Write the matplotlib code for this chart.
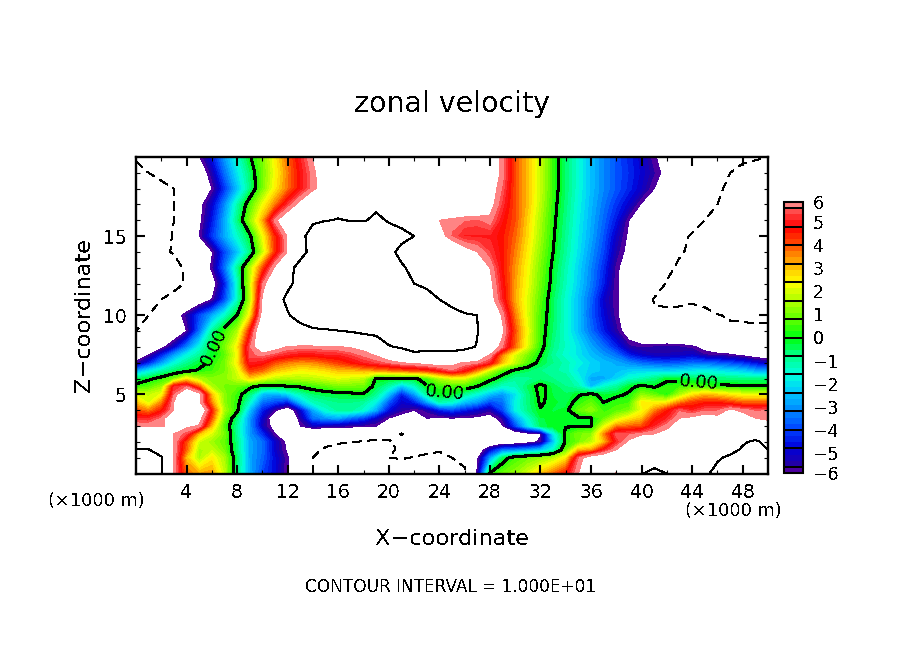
import numpy as np
import matplotlib
matplotlib.use('Agg')
import matplotlib.pyplot as plt
from matplotlib.colors import LinearSegmentedColormap

plt.rcParams['font.family'] = 'DejaVu Sans'
plt.rcParams['text.antialiased'] = False
plt.rcParams['lines.antialiased'] = False

# zonal velocity, one row per height, x = 0..50 km
# rows are every km, with half km rows below 8 km where the structure is finer
x_km = list(range(0, 51))
z_km = [0, 1, 1.5, 2, 2.5, 3, 3.5, 4, 4.5, 5, 5.5, 6, 6.5, 7, 7.5, 8, 9, 10, 11, 12, 13, 14, 15, 16, 17, 18, 19, 20]

u_z00 = [13,12.5,10.3,5.9,3.8,3.2,3.4,1.8,-0.8,-2.7,
         -4,-4.8,-6,-8,-10,-12,-12,-12,-12,-12,
         -12,-12,-12,-12,-12,-11,-10.2,-5.8,0.1,0.9,
         1.3,2,3,3.8,4.6,6,7.5,7,5.9,7.5,
         9.9,10.5,10,9,9,9.7,10.5,12,12,12,
         12]
u_z01 = [12,11.5,10.2,6,3,1.5,2.5,1.5,-0.6,-2.8,
         -3.6,-4.8,-5.9,-7.5,-10,-12,-12,-12,-12,-11.5,
         -10,-9.8,-10.1,-10.4,-10.6,-10,-9.7,-6.2,-3,-0.5,
         0.5,0.9,1.2,1.6,2.5,5.5,6.8,7,7,7.5,
         8.5,9,9,8.5,8.5,9,9.8,10.3,11,11,
         11]
u_z01_5 = [10.2,10.1,9,6,3.8,1.5,1.8,1,-0.8,-2.8,
           -3.5,-5,-6.2,-7.5,-9.5,-10.3,-11,-11,-11,-11,
           -10.5,-9.5,-9.4,-9.5,-9.8,-9.5,-9,-7,-5,-3.5,
           -3.3,-3,-2.5,-1.5,0.8,3,3.2,4.8,6,7,
           8,9,8.5,8.5,8.5,8.5,9,9.5,10.2,10.1,
           10]
u_z02 = [8,8,7.5,6,4,1.9,1.4,0.8,-0.8,-2.8,
         -3.5,-5,-6.3,-8,-9.2,-9.4,-9.7,-9.9,-10.2,-10.5,
         -10.3,-9.5,-9,-9,-9.3,-9,-9.5,-8.5,-7.5,-7,
         -7,-6.5,-5.8,-2.5,0.2,1,1.7,3,5,6.2,
         8,8,8,8,8,8.5,8.8,9,9.8,10.3,
         9.5]
u_z02_5 = [7,7,6.8,6,5.3,3,2,1,-1,-3,
           -4.3,-6,-8,-7.5,-8,-8,-8,-8,-8,-8.5,
           -9,-10.1,-9,-9,-8.5,-8.3,-8.5,-8,-7.8,-7.5,
           -7,-6.5,-6.1,-2,0.3,1,1.2,3.5,5.5,5.5,
           5.7,6,6.3,7,8,8,8,8.5,9,9,
           9]
u_z03 = [6,5.9,5.9,6.3,6.2,5.9,3,0.6,-1,-3,
         -5.2,-6.5,-7.5,-6,-5.2,-5.4,-5.5,-5.7,-5.8,-6,
         -7,-8.5,-8,-7.5,-7,-7,-7.5,-8,-7,-6.1,
         -4,-2,-0.5,-0.1,-0.05,-0.05,-0.02,2,3.5,3.8,
         4,5,5.8,6.5,7.5,8,8,8,8,7.5,
         6.5]
u_z03_5 = [5,5,5.6,7,8,6.5,4,1,-0.7,-3,
           -5,-7,-8,-5.5,-3.5,-3,-2.8,-3.5,-4,-5,
           -6,-6.5,-6.5,-6,-6.1,-6,-6.1,-6.2,-6.5,-5.5,
           -3,-1.5,-0.3,-0.2,-0.2,-0.1,-0.02,0.8,1.8,2.5,
           3,4.5,5,6,6.2,6.5,6.3,6.3,6.5,6,
           5.8]
u_z04 = [4,3.5,4.5,6,8,7.5,4.5,1.5,0.2,-2.5,
         -4.5,-5.8,-7,-5,-2.8,-1.5,-1,-1,-1.5,-2.8,
         -4.7,-5.5,-6,-5.5,-4.5,-4,-4.5,-5,-5.5,-4,
         -1.8,-0.8,-0.05,-0.3,-0.2,0.8,1.3,0.4,0.7,1,
         2.2,3.5,4.5,5.5,5,5.5,5.5,6.2,5.8,5.5,
         5.6]
u_z04_5 = [3,2,3.5,6,8,6.2,3.5,1.2,0.3,-1.5,
           -3.5,-4,-4.5,-2.5,-1.3,-1,-0.8,-0.8,-1,-1.8,
           -3.8,-5,-4.5,-3,-1.2,-1.5,-2.5,-3,-4,-3.5,
           -1.8,-0.7,0.1,-0.2,-0.4,0.3,0.8,0,0.4,0.5,
           2.5,2.3,2.5,3.5,4.2,4.5,4.5,4.2,3.8,3.8,
           3.8]
u_z05 = [2,1.8,2.2,5.5,7.5,6.5,3,1.2,0.4,-0.7,
         -2.5,-2.8,-2.2,-1.3,-0.6,-0.4,-0.3,-0.2,-0.1,-0.9,
         -2.5,-4.5,-3,-1,-0.1,-0.2,-1,-1.7,-2.5,-3,
         -2,-0.7,0.2,-0.3,-0.5,-0.1,0.2,-0.3,-0.2,0.1,
         1.2,0.8,0.2,1.5,2.5,3,2.8,2.5,2.2,2.2,
         2.2]
u_z05_5 = [0.3,0.7,1.3,5,5.5,3.8,1.5,1,0.8,0.2,
           -0.3,-0.3,-0.05,0.1,0.4,0.7,1,0.9,0.9,-0.4,
           -1.2,-2.5,-1.5,-0.1,0.4,0.5,0.5,0,-0.8,-1.5,
           -1.3,-0.5,0.3,-0.4,-0.8,-1.2,-2.5,-1.5,-1,-0.2,
           0.2,-0.1,0.3,0.5,0.7,0.5,0.2,0.15,0.1,0.1,
           0.1]
u_z06 = [-0.6,-0.2,0.3,1,2.5,1.6,1.1,1.2,1.8,2.8,
         2.2,1.7,1.5,1.6,1.7,1.9,2.1,1.9,1.7,-0.1,
         -0.1,-0.1,-0.2,0.5,1.5,2,2,1,0.3,-0.4,
         -1,-0.9,-0.7,-0.8,-0.9,-1.6,-2.8,-2.8,-2.2,-1.5,
         -1.2,-0.8,-0.2,-0.3,-0.5,-0.6,-0.7,-0.7,-0.8,-0.8,
         -0.8]
u_z06_5 = [-3,-2,-1.2,-0.6,-0.2,0.1,0.5,1,2,4.2,
           3.8,3,2.7,2.4,2.5,2.7,3,3,3.2,3.4,
           3.6,3.8,4,4.2,4.8,5.5,4.8,3.5,1.8,0.5,
           -0.2,-0.5,-0.8,-1,-1.2,-2,-2.2,-2.5,-2.5,-2.3,
           -2.2,-2.2,-2.3,-2.2,-2,-1.8,-2,-2.2,-2.4,-2.8,
           -3]
u_z07 = [-5.8,-4.5,-3,-1.7,-0.9,-0.3,0.2,1,2.5,5,
         4.8,4,3.6,3.4,3.5,3.8,4.2,4.6,5,5.3,
         5.6,6,6.2,6.5,6.7,6.3,5.9,5.7,5,3,
         1.8,0.6,-0.3,-0.8,-1.2,-1.7,-2.2,-2.5,-2.8,-3.2,
         -3.6,-3.8,-3.9,-3.8,-3.6,-3.6,-3.8,-4,-4.3,-4.8,
         -5.2]
u_z07_5 = [-7,-6,-4.5,-3,-1.8,-1,-0.2,0.7,2.3,5.5,
           5.7,5.3,5,4.8,4.8,5,5,5.3,5.7,6.1,
           7,8.5,9.5,9.3,9.3,9.3,9,7.5,6,3.5,
           2,1,0,-1,-1.5,-2,-2.5,-3,-3.5,-4.5,
           -5,-5.3,-5.3,-5.2,-5,-5.6,-5.8,-5.9,-6.2,-6.6,
           -7]
u_z08 = [-8.5,-7.5,-6.4,-5,-3.3,-1.7,-0.2,1,2.5,5.5,
         7,6.5,5.9,5.8,5.8,5.85,5.95,6.1,6.3,7.2,
         9.8,10.3,10.8,10.8,10.8,10.8,10.5,9.9,7,5.6,
         3.8,2,0.3,-0.8,-1.4,-2,-2.8,-3.5,-4.4,-5.5,
         -5.7,-5.6,-5.5,-5.6,-5.8,-6.4,-6.8,-7,-7.2,-7.3,
         -7.5]
u_z09 = [-10,-9.5,-8.5,-7.3,-6,-3.5,-1,0.4,1.5,4.5,
         7.5,8,8.5,9,9.3,9.6,9.9,10.2,10.8,11.2,
         11.5,12,12,12,12,12,11,10.1,7.5,6.2,
         4,2.2,0.4,-0.6,-1.5,-2.5,-3.5,-4.5,-5.5,-6.7,
         -7.5,-8,-8.2,-8.3,-8.5,-8.7,-9,-9.6,-9.6,-9.6,
         -9.6]
u_z10 = [-10.8,-10,-8.5,-6.8,-5.5,-4,-2.8,-1.5,0,2.5,
         6.5,8.5,9.8,11,13,13,13,13,13,13,
         13,13,13,13,13,11,10.3,10,8,5.8,
         3.6,2,0.5,-0.5,-1.5,-2.5,-3.7,-4.8,-5.8,-7,
         -9,-9.6,-9.2,-9,-9.2,-9.5,-9.9,-10.2,-10.3,-10.4,
         -10.4]
u_z11 = [-12.5,-11.5,-10,-9,-8,-7,-6,-4,-1.5,1.5,
         6.2,9,10.5,13,13,13,13,13,13,13,
         13,13,13,12,10,9,8,7,6.5,5,
         3.2,2,0.7,-0.5,-1.5,-2.5,-3.6,-5,-5.9,-6.5,
         -8,-10.2,-10.8,-10.8,-10.3,-10.5,-11.5,-12,-12.5,-13,
         -13]
u_z12 = [-14,-13,-12,-11,-9.7,-8,-6.7,-4.5,-1.5,1.8,
         5.5,7.5,9.5,10.8,13,13,13,13,13,13,
         13,12,10,9,8.5,8,7.5,7,6.3,4.8,
         3.3,2.2,0.9,-0.3,-1.3,-2.3,-3.3,-4.5,-5.9,-6.6,
         -7.4,-8.5,-10.2,-11,-11.5,-12,-13,-13,-13,-13,
         -13]
u_z13 = [-14,-13,-12,-11,-9.5,-7.5,-5.8,-3.5,-1,1.5,
         4,6.2,9.5,10.5,13,13,13,13,13,13,
         13,10.5,9,8.5,8,8,8,7,6,4.6,
         3.4,2.3,1,-0.2,-1.2,-2.2,-3.2,-4.3,-5.8,-6.7,
         -7.5,-8.2,-9.3,-10.5,-11.5,-12,-13,-13,-13,-13,
         -13]
u_z14 = [-13,-12,-10.5,-9.8,-8.5,-7,-6.1,-4,-2.5,-0.8,
         1.7,4.3,6.1,9.5,10.5,12,13,13,13,13,
         11,9,8.5,9.3,8,7.5,6.5,6,5.3,4.6,
         3.6,2.5,1.2,0,-1,-2,-3,-4,-5.4,-6.4,
         -7,-8,-8.8,-9.7,-10.5,-11.5,-12,-13,-13,-13,
         -13]
u_z15 = [-13,-12,-11,-9.8,-8,-6,-4.2,-2.8,-1.5,-0.2,
         2.2,4.4,6.1,9,11.5,13,13,13,13,11,
         11,11,10,8.5,6.5,5.5,5,5,5,4.6,
         3.8,2.7,1.4,0.1,-0.9,-1.9,-2.8,-3.8,-5.1,-6.2,
         -7,-7.5,-8.3,-9.5,-10.2,-11,-12,-13,-13,-13,
         -13]
u_z16 = [-13,-12,-11,-10,-8,-6.3,-4.6,-2.8,-0.8,1.2,
         3.2,5.8,7,8.5,9.5,9.9,10.1,9.9,9.8,10.5,
         9.8,9,8.5,7.5,6,5.8,5.6,5.5,5.8,4.8,
         4,2.8,1.5,0.2,-0.8,-1.8,-2.7,-3.6,-4.6,-6,
         -7,-7.5,-8,-8.5,-9.2,-10,-11,-12,-13,-13,
         -13]
u_z17 = [-13,-12,-11,-10,-8.5,-6.4,-5,-3.2,-1.2,0.6,
         2.2,3.6,5.2,6.4,7.5,8.5,9.3,9.5,9.5,9.5,
         9,8.5,8.5,8.5,8,7.5,7.5,7.5,6.4,5.2,
         4,3,1.7,0.3,-0.7,-1.7,-2.6,-3.4,-4.2,-5,
         -6.1,-6.8,-7.5,-8,-8.5,-9.3,-10,-11,-12,-13,
         -13]
u_z18 = [-13,-12,-11,-10,-8.5,-7,-6,-4.2,-2.5,-0.8,
         1,2.5,3.7,4.8,5.8,6.5,7.5,8,8,8,
         8,8,8,8,8,8,8,8,6.6,5.5,
         4,3,1.8,0.4,-0.6,-1.6,-2.5,-3.2,-3.8,-4.4,
         -5.1,-6,-6.8,-7.5,-8,-8.8,-9.6,-10.5,-12,-13,
         -13]
u_z19 = [-10.5,-10,-9,-8.5,-8,-7,-5.4,-3.5,-2,-0.6,
         0.9,2.3,3.6,4.8,5.8,6.7,7.5,8,8,8,
         8,8,8,8,8,8,8,7.8,6.7,5.8,
         4,3,1.8,0.4,-0.6,-1.6,-2.5,-3.2,-3.8,-4.3,
         -4.9,-5.6,-6.4,-7.5,-8,-8.7,-9.4,-10,-11,-11.5,
         -12]
u_z20 = [-9.8,-9,-8.5,-8,-7,-6.1,-4.6,-3,-1.5,-0.1,
         1,2.5,3.8,5,6.1,7,7.5,8,8,8,
         8,8,8,8,8,8,8,8,7,5.7,
         4,3,1.8,0.4,-0.6,-1.6,-2.5,-3.2,-3.8,-4.4,
         -5,-5.9,-6.5,-7,-7.5,-8,-8.5,-9,-9.3,-9.6,
         -10]

u = np.array([u_z00, u_z01, u_z01_5, u_z02, u_z02_5, u_z03, u_z03_5, u_z04, u_z04_5, u_z05, u_z05_5,
              u_z06, u_z06_5, u_z07, u_z07_5, u_z08, u_z09, u_z10, u_z11, u_z12, u_z13, u_z14,
              u_z15, u_z16, u_z17, u_z18, u_z19, u_z20])

# colour table, value -> colour, taken from the colour bar
color_values = [-6, -5.6, -4.8, -4, -3.2, -2.4, -1.6, -0.8, 0, 0.8, 1.6, 2.4, 3.2, 4, 4.8, 5.6, 6]
color_list = ['#6e00a0', '#2800a0', '#0000d8', '#0040ff', '#0088ff', '#00c8ff', '#00ffdc', '#00ff8c',
              '#00ff10', '#60ff00', '#b0ff00', '#ffff00', '#ffb400', '#ff5000', '#ff0000', '#ff5a5a', '#ffaaaa']
cmap = LinearSegmentedColormap.from_list(
    'zonal', [((v + 6) / 12, c) for v, c in zip(color_values, color_list)], N=256)
levels = [-6] + [round(-5.6 + i * 0.8 / 3, 4) for i in range(43)] + [6]

fig = plt.figure(figsize=(9.04, 6.54), dpi=100)
ax = fig.add_axes([136 / 904, 1 - 473.5 / 654, 632 / 904, 316.5 / 654])

cf = ax.contourf(x_km, z_km, u, levels=levels, cmap=cmap, vmin=-6, vmax=6)
# +/-10 thin (negative dashed), zero line heavy
thin = ax.contour(x_km, z_km, u, levels=[-10, 10], colors='k', linewidths=0.75,
                  linestyles=[(0, (8, 6)), 'solid'], antialiased=False)
zero = ax.contour(x_km, z_km, u, levels=[0], colors='k', linewidths=1.5, antialiased=False)
ax.clabel(zero, fmt='%.2f', fontsize=13, inline=True, inline_spacing=2,
          manual=[(6.2, 8), (24.5, 4.9), (44.5, 5.7)])

ax.set_xlim(0, 50)
ax.set_ylim(0, 20)
ax.set_xticks(range(4, 50, 4))
ax.set_xticks(range(2, 50, 4), minor=True)
ax.set_yticks([5, 10, 15])
ax.set_yticks([z for z in range(1, 20) if z % 5 != 0], minor=True)
ax.tick_params(which='major', direction='in', top=True, right=True, length=6.5, width=1.5, labelsize=13.5, pad=7)
ax.tick_params(which='minor', direction='in', top=True, right=True, length=3.2, width=0.8)
for side in ax.spines.values():
    side.set_linewidth(1.7)

# colour bar with a black line every 0.8
cax = fig.add_axes([784 / 904, 1 - 473 / 654, 19 / 904, 271 / 654])
cbar = fig.colorbar(cf, cax=cax)
cbar.set_ticks(list(range(-6, 7)))
cbar.set_ticklabels([str(v).replace('-', '\u2212') for v in range(-6, 7)])
cbar.ax.tick_params(length=0, labelsize=12.5, pad=7)
cbar.outline.set_linewidth(1.5)
cax.hlines([round(-5.6 + i * 0.8, 1) for i in range(15)], 0, 1, transform=cax.get_yaxis_transform(),
           colors='k', linewidth=1.2)

fig.text(452 / 904, 1 - 104 / 654, 'zonal velocity', ha='center', va='center', fontsize=20.5)
fig.text(452 / 904, 1 - 539 / 654, 'X\u2212coordinate', ha='center', va='center', fontsize=16.2)
fig.text(84 / 904, 1 - 315 / 654, 'Z\u2212coordinate', ha='center', va='center', rotation=90, fontsize=16.2)
fig.text(451 / 904, 1 - 587 / 654, 'CONTOUR INTERVAL = 1.000E+01', ha='center', va='center', fontsize=12.2)
fig.text(96 / 904, 1 - 501 / 654, '(\u00d71000 m)', ha='center', va='center', fontsize=12.8)
fig.text(733 / 904, 1 - 511 / 654, '(\u00d71000 m)', ha='center', va='center', fontsize=12.8)

fig.savefig('out.png', dpi=100)
